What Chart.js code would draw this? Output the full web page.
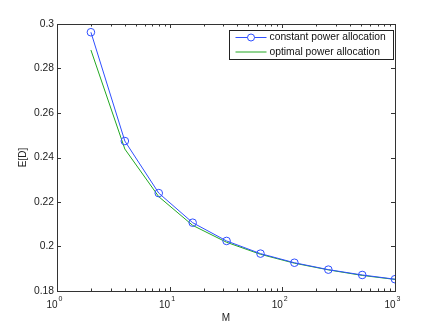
<!DOCTYPE html>
<html>
<head>
<meta charset="utf-8">
<script src="https://cdn.jsdelivr.net/npm/chart.js@4/dist/chart.umd.min.js"></script>
<style>
  html, body { margin: 0; padding: 0; background: #fff; }
  #wrap { width: 436px; height: 328px; }
</style>
</head>
<body>
<div id="wrap"><canvas id="chart" width="436" height="328"></canvas></div>
<script>
const M = [2, 4, 8, 16, 32, 64, 128, 256, 512, 1000];
const constantPower = [0.2963, 0.2474, 0.2240, 0.2107, 0.2025, 0.1968, 0.1927, 0.1896, 0.1872, 0.1853];
const optimalPower = [0.2883, 0.2438, 0.2224, 0.2095, 0.2019, 0.1965, 0.1925, 0.1895, 0.1870, 0.1852];
const seriesNames = ["constant power allocation", "optimal power allocation"];
const xTicks = [1, 2, 3, 4, 5, 6, 7, 8, 9, 10, 20, 30, 40, 50, 60, 70, 80, 90, 100, 200, 300, 400, 500, 600, 700, 800, 900, 1000];
const xDecades = [1, 10, 100, 1000];
const xExponents = ["0", "1", "2", "3"];
const yTicks = [0.18, 0.2, 0.22, 0.24, 0.26, 0.28, 0.3];

const blue = "#2f4fff";
const green = "#22a822";
const axisColor = "#333";
const fontFamily = "'Liberation Sans', Arial, sans-serif";

// box, inward ticks, 10^n labels and legend in matlab style
const matlabAxes = {
  id: "matlabAxes",
  afterDraw(chart) {
    const { ctx, chartArea: a, scales } = chart;
    ctx.save();
    ctx.strokeStyle = axisColor;
    ctx.lineWidth = 1;
    ctx.strokeRect(a.left + 0.5, a.top + 0.5, a.right - a.left, a.bottom - a.top);

    ctx.beginPath();
    scales.x.ticks.forEach(t => {
      const x = Math.round(scales.x.getPixelForValue(t.value)) + 0.5;
      const len = xDecades.includes(t.value) ? 4 : 2.5;
      ctx.moveTo(x, a.bottom); ctx.lineTo(x, a.bottom - len);
      ctx.moveTo(x, a.top); ctx.lineTo(x, a.top + len);
    });
    scales.y.ticks.forEach(t => {
      const y = Math.round(scales.y.getPixelForValue(t.value)) + 0.5;
      ctx.moveTo(a.left, y); ctx.lineTo(a.left + 4, y);
      ctx.moveTo(a.right, y); ctx.lineTo(a.right - 4, y);
    });
    ctx.stroke();

    // x labels as 10 with raised exponent
    ctx.fillStyle = "#222";
    ctx.textBaseline = "alphabetic";
    xDecades.forEach((v, i) => {
      const x = scales.x.getPixelForValue(v);
      ctx.font = "10px " + fontFamily;
      ctx.textAlign = "right";
      ctx.fillText("10", x + 0.5, a.bottom + 17);
      ctx.font = "7px " + fontFamily;
      ctx.textAlign = "left";
      ctx.fillText(xExponents[i], x + 1.5, a.bottom + 10);
    });

    // legend
    const lx = 229.5, ly = 30.5, lw = 164, lh = 29;
    ctx.fillStyle = "#fff";
    ctx.fillRect(lx, ly, lw, lh);
    ctx.strokeStyle = "#222";
    ctx.strokeRect(lx, ly, lw, lh);
    const colors = [blue, green];
    ctx.font = "10.3px " + fontFamily;
    ctx.textAlign = "left";
    ctx.textBaseline = "middle";
    seriesNames.forEach((name, i) => {
      const y = ly + 7 + i * 14.5;
      ctx.strokeStyle = colors[i];
      ctx.beginPath();
      ctx.moveTo(lx + 6, y); ctx.lineTo(lx + 37, y);
      ctx.stroke();
      if (i === 0) {
        ctx.beginPath();
        ctx.arc(lx + 21.5, y, 3.5, 0, Math.PI * 2);
        ctx.fillStyle = "#fff";
        ctx.fill();
        ctx.stroke();
      }
      ctx.fillStyle = "#111";
      ctx.fillText(name, lx + 40, y);
    });
    ctx.restore();
  }
};

new Chart(document.getElementById("chart"), {
  type: "line",
  data: {
    labels: M,
    datasets: [
      {
        label: seriesNames[0],
        data: M.map((m, i) => ({ x: m, y: constantPower[i] })),
        borderColor: blue,
        borderWidth: 1,
        pointStyle: "circle",
        pointRadius: 3.8,
        pointBorderColor: blue,
        pointBackgroundColor: "rgba(0,0,0,0)",
        pointBorderWidth: 1,
        tension: 0
      },
      {
        label: seriesNames[1],
        data: M.map((m, i) => ({ x: m, y: optimalPower[i] })),
        borderColor: green,
        borderWidth: 1,
        pointRadius: 0,
        tension: 0
      }
    ]
  },
  options: {
    responsive: false,
    animation: false,
    layout: { padding: { left: 0, right: 41, top: 24, bottom: 0 } },
    plugins: {
      legend: { display: false },
      tooltip: { enabled: false }
    },
    scales: {
      x: {
        type: "logarithmic",
        min: 1,
        max: 1000,
        afterBuildTicks: s => { s.ticks = xTicks.map(v => ({ value: v })); },
        afterFit: s => { s.height = 37; },
        grid: { display: false, drawTicks: false, tickLength: 0 },
        border: { display: false },
        ticks: { display: false, autoSkip: false },
        title: {
          display: true,
          text: "M",
          color: "#222",
          padding: { top: 0, bottom: 4 },
          font: { family: fontFamily, size: 10 }
        }
      },
      y: {
        min: 0.18,
        max: 0.3,
        afterBuildTicks: s => { s.ticks = yTicks.map(v => ({ value: v })); },
        afterFit: s => { s.width = 57; },
        grid: { display: false, drawTicks: false, tickLength: 0 },
        border: { display: false },
        ticks: {
          padding: 3,
          color: "#222",
          font: { family: fontFamily, size: 10.3 },
          callback: v => String(Math.round(v * 100) / 100)
        },
        title: {
          display: true,
          text: "E[D]",
          color: "#222",
          padding: { top: 17, bottom: 0 },
          font: { family: fontFamily, size: 10 }
        }
      }
    }
  },
  plugins: [matlabAxes]
});
</script>
</body>
</html>
